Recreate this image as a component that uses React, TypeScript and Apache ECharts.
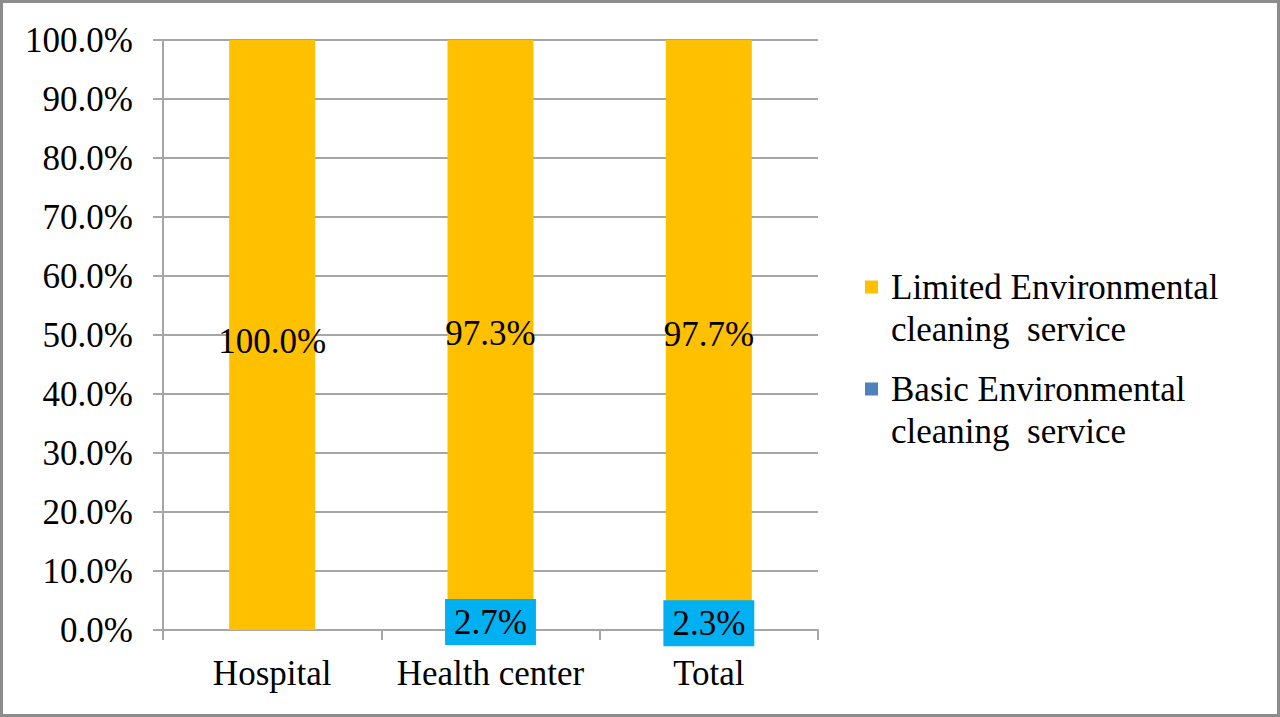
import React, { useEffect, useRef } from 'react';
import * as echarts from 'echarts';

const categories = ['Hospital', 'Health center', 'Total'];
const limitedName = 'Limited Environmental\ncleaning  service';
const basicName = 'Basic Environmental\ncleaning  service';
const limitedValues = [100.0, 97.3, 97.7];
const basicValues = [0, 2.7, 2.3];

const FONT = "'Liberation Serif', 'Times New Roman', serif";
const GRID = '#a6a6a6';
const SIZE = 35;

const App: React.FC = () => {
    const chartRef = useRef<HTMLDivElement>(null);

    useEffect(() => {
        if (!chartRef.current) return;
        const chart = echarts.init(chartRef.current, null, { renderer: 'svg' });

        const pct = (p: any) => Number(p.value).toFixed(1) + '%';

        chart.setOption({
            animation: false,
            backgroundColor: '#ffffff',
            textStyle: { fontFamily: FONT },
            grid: { left: 163, right: 462, top: 40, bottom: 87 },
            legend: {
                orient: 'vertical',
                left: 860,
                top: 219,
                data: [limitedName, basicName],
                icon: 'rect',
                itemWidth: 13,
                itemHeight: 13,
                itemGap: -24,
                formatter: (name: string) => '\n' + name,
                textStyle: {
                    fontFamily: FONT,
                    fontSize: SIZE,
                    lineHeight: 42,
                    color: '#000',
                    padding: [0, 0, 0, 8],
                },
            },
            xAxis: {
                type: 'category',
                data: categories,
                axisLine: { lineStyle: { color: GRID, width: 2 } },
                axisTick: { show: true, length: 10, lineStyle: { color: GRID, width: 2 } },
                axisLabel: { color: '#000', fontSize: SIZE, fontFamily: FONT, margin: 26, interval: 0 },
            },
            yAxis: {
                type: 'value',
                min: 0,
                max: 100,
                interval: 10,
                axisLine: { show: true, lineStyle: { color: GRID, width: 2 } },
                axisTick: { show: true, length: 10, lineStyle: { color: GRID, width: 2 } },
                splitLine: { lineStyle: { color: GRID, width: 2 } },
                axisLabel: {
                    color: '#000',
                    fontSize: SIZE,
                    fontFamily: FONT,
                    margin: 30,
                    formatter: (v: number) => v.toFixed(1) + '%',
                },
            },
            series: [
                {
                    name: basicName,
                    type: 'bar',
                    stack: 'total',
                    barWidth: 86,
                    itemStyle: { color: '#4F81BD' },
                    data: basicValues.map(v => (v === 0 ? { value: v, label: { show: false } } : v)),
                    label: {
                        show: true,
                        position: 'inside',
                        formatter: pct,
                        color: '#000',
                        fontSize: SIZE,
                        fontFamily: FONT,
                        backgroundColor: '#00B0F0',
                        padding: [6, 9, 5, 9],
                    },
                },
                {
                    name: limitedName,
                    type: 'bar',
                    stack: 'total',
                    barWidth: 86,
                    itemStyle: { color: '#FFC000' },
                    data: limitedValues,
                    label: {
                        show: true,
                        position: 'inside',
                        offset: [0, 6],
                        formatter: pct,
                        color: '#000',
                        fontSize: SIZE,
                        fontFamily: FONT,
                    },
                },
            ],
        });

        return () => {
            chart.dispose();
        };
    }, []);

    return (
        <div style={{ position: 'fixed', left: 0, top: 0, width: 1280, height: 717, background: '#fff' }}>
            <div ref={chartRef} style={{ position: 'absolute', left: 0, top: 0, width: 1280, height: 717 }} />
            <div
                style={{
                    position: 'absolute',
                    left: 0,
                    top: 0,
                    width: 1280,
                    height: 717,
                    boxSizing: 'border-box',
                    border: '3px solid #8c8c8c',
                    pointerEvents: 'none',
                }}
            />
        </div>
    );
};

export default App;
